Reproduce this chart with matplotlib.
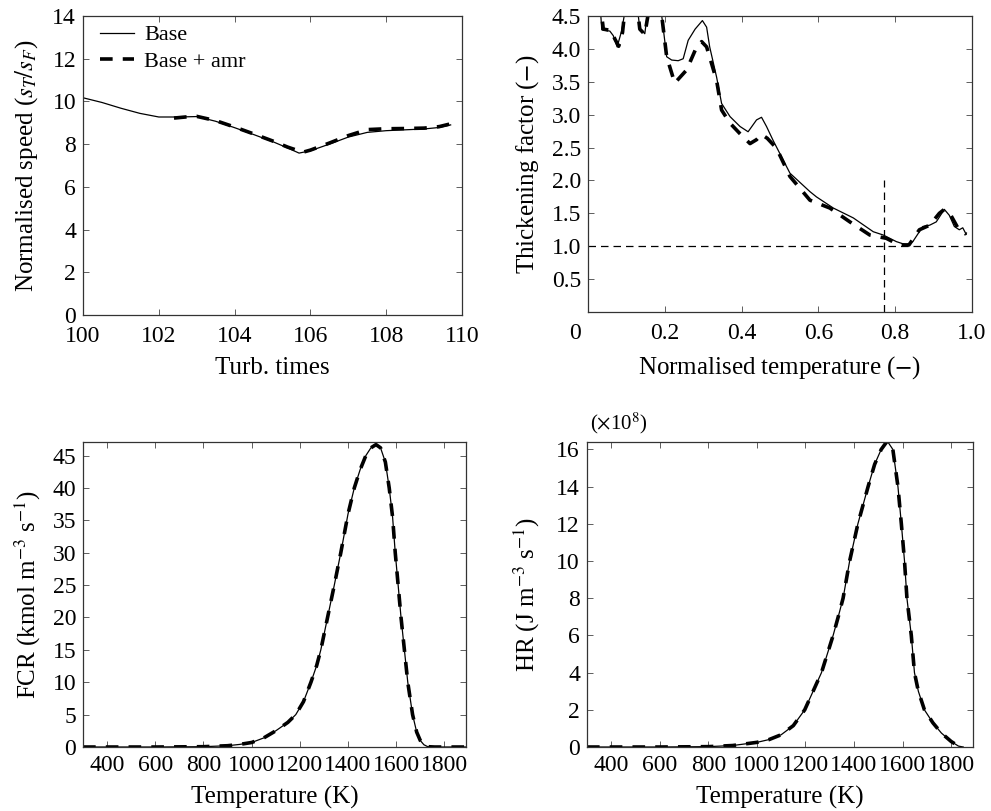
## Flame speed, thickening factor and reaction-rate profiles, base vs base + amr

import numpy as np
import matplotlib.pyplot as plt
from matplotlib.transforms import ScaledTranslation

plt.rcParams['font.family'] = ['Liberation Serif', 'DejaVu Serif']
plt.rcParams['mathtext.fontset'] = 'stix'
plt.rcParams['font.size'] = 17

# Normalised speed vs turbulent times
speed_t_base = [100.0, 100.5, 101.0, 101.5, 102.0, 102.5, 103.0, 103.5, 104.0, 104.5, 105.0,
                105.4, 105.7, 106.0, 106.5, 107.0, 107.5, 108.0, 108.5, 109.0, 109.4, 109.7]
speed_base = [10.17, 9.95, 9.68, 9.44, 9.27, 9.27, 9.29, 9.07, 8.77, 8.45, 8.12,
              7.82, 7.58, 7.69, 8.00, 8.33, 8.55, 8.63, 8.67, 8.71, 8.78, 8.90]
speed_t_amr = [102.4, 102.7, 103.0, 103.5, 104.0, 104.5, 105.0, 105.4, 105.8, 106.0, 106.5,
               107.0, 107.5, 108.0, 108.5, 109.0, 109.4, 109.7]
speed_amr = [9.22, 9.27, 9.30, 9.10, 8.80, 8.48, 8.15, 7.86, 7.62, 7.72, 8.05,
             8.40, 8.68, 8.72, 8.73, 8.75, 8.82, 8.95]

# Thickening factor vs normalised temperature
tf_x_base = [0.030, 0.036, 0.057, 0.066, 0.076, 0.088, 0.094, 0.100, 0.125, 0.135, 0.148,
             0.154, 0.165, 0.188, 0.205, 0.218, 0.235, 0.248, 0.261, 0.279, 0.298, 0.309,
             0.317, 0.335, 0.348, 0.370, 0.396, 0.417, 0.439, 0.452, 0.465, 0.482, 0.526,
             0.578, 0.595, 0.639, 0.691, 0.743, 0.769, 0.803, 0.829, 0.846, 0.872, 0.890,
             0.907, 0.928, 0.941, 0.954, 0.967, 0.976, 0.985]
tf_base = [4.80, 4.29, 4.27, 4.20, 4.03, 4.28, 4.49, 4.80, 4.80, 4.31, 4.23,
           4.50, 4.80, 4.70, 3.88, 3.83, 3.82, 3.85, 4.13, 4.30, 4.43, 4.33,
           4.03, 3.57, 3.17, 2.97, 2.82, 2.74, 2.92, 2.96, 2.82, 2.61, 2.11,
           1.83, 1.75, 1.58, 1.43, 1.22, 1.17, 1.07, 1.02, 1.07, 1.30, 1.32,
           1.37, 1.56, 1.47, 1.30, 1.25, 1.28, 1.18]
tf_x_amr = [0.030, 0.040, 0.060, 0.070, 0.080, 0.090, 0.100, 0.125, 0.135, 0.148, 0.156,
            0.170, 0.188, 0.205, 0.226, 0.257, 0.283, 0.296, 0.309, 0.335, 0.348, 0.370,
            0.396, 0.422, 0.439, 0.452, 0.467, 0.491, 0.526, 0.578, 0.630, 0.682, 0.734,
            0.777, 0.810, 0.836, 0.863, 0.890, 0.915, 0.928, 0.946, 0.963, 0.985]
tf_amr = [4.80, 4.30, 4.28, 4.15, 4.04, 4.25, 4.80, 4.80, 4.30, 4.22, 4.50,
          4.80, 4.70, 3.88, 3.48, 3.68, 4.03, 4.11, 4.03, 3.52, 3.07, 2.87,
          2.71, 2.56, 2.62, 2.70, 2.64, 2.49, 2.06, 1.70, 1.58, 1.37, 1.17,
          1.12, 1.02, 1.02, 1.25, 1.32, 1.50, 1.56, 1.46, 1.28, 1.18]
tf_marker_x = 0.772

# FCR vs temperature
fcr_T = [300, 600, 800, 900, 950, 1000, 1050, 1100, 1150, 1183, 1215, 1246, 1270, 1287,
         1315, 1343, 1370, 1400, 1426, 1450, 1474, 1495, 1516, 1535, 1555, 1571, 1585,
         1596, 1608, 1620, 1634, 1648, 1668, 1685, 1700, 1715, 1731, 1760, 1890]
fcr_base = [0.0, 0.0, 0.05, 0.2, 0.4, 0.7, 1.4, 2.5, 3.8, 5.0, 7.0, 10.0, 12.6, 15.0,
            20.0, 25.0, 30.0, 36.0, 40.0, 42.8, 45.0, 46.2, 46.7, 46.2, 44.0, 40.0, 35.5,
            30.0, 25.0, 20.0, 15.0, 10.0, 5.0, 2.3, 1.0, 0.35, 0.05, 0.0, 0.0]
fcr_amr = fcr_base

# Heat release vs temperature (x 1e8)
hr_T = [300, 600, 800, 900, 1000, 1050, 1100, 1150, 1197, 1235, 1266, 1290, 1314, 1335,
        1355, 1382, 1416, 1458, 1485, 1512, 1537, 1560, 1581, 1595, 1608, 1618, 1636,
        1649, 1665, 1690, 1725, 1760, 1800, 1830, 1850]
hr_base = [0.0, 0.0, 0.02, 0.08, 0.25, 0.4, 0.66, 1.15, 2.0, 3.1, 4.0, 5.0, 6.0, 7.0,
           8.0, 10.0, 12.0, 14.0, 15.2, 16.0, 16.45, 16.0, 14.0, 12.0, 10.0, 8.0, 6.0,
           4.0, 3.0, 2.0, 1.3, 0.75, 0.3, 0.05, 0.0]
hr_amr = hr_base


def style_axes(ax, xpad=6):
    ax.tick_params(direction='in', top=True, right=True, length=4, width=0.6,
                   colors='#444444', labelcolor='black', labelsize=17)
    ax.tick_params(axis='x', pad=xpad)
    ax.tick_params(axis='y', pad=5)
    for s in ax.spines.values():
        s.set_linewidth(0.9)
        s.set_color('#333333')


fig = plt.figure(figsize=(9.91, 8.11), dpi=100)

solid = dict(color='black', lw=0.9)
dashed = dict(color='black', lw=2.6, dashes=(3.5, 2.8))

# Top left
ax1 = fig.add_axes([0.0838, 0.6116, 0.3824, 0.3687])
ax1.plot(speed_t_base, speed_base, label='Base', **solid)
ax1.plot(speed_t_amr, speed_amr, label='Base + amr', **dashed)
ax1.set_xlim(100, 110)
ax1.set_ylim(0, 14)
ax1.set_xticks(np.arange(100, 111, 2))
ax1.set_yticks(np.arange(0, 15, 2))
ax1.set_xlabel('Turb. times', fontsize=18, va='center')
ax1.set_ylabel(r'Normalised speed ($s_T/s_F$)', fontsize=18, va='center')
ax1.xaxis.set_label_coords(0.5, -0.177)
ax1.yaxis.set_label_coords(-0.148, 0.5)
ax1.legend(loc='upper left', bbox_to_anchor=(0.02, 1.0), frameon=False, fontsize=16,
           handlelength=1.55, handletextpad=0.45, borderaxespad=0.0, labelspacing=0.25)
style_axes(ax1, xpad=8)

# Top right
ax2 = fig.add_axes([0.5933, 0.6153, 0.3875, 0.3650])
ax2.plot(tf_x_base, tf_base, **solid)
ax2.plot(tf_x_amr, tf_amr, **dashed)
ax2.axhline(1.0, color='black', lw=0.9, dashes=(6, 4))
ax2.plot([tf_marker_x, tf_marker_x], [0, 2.0], color='black', lw=0.9, dashes=(6, 4))
ax2.set_xlim(0, 1.0)
ax2.set_ylim(0, 4.5)
ax2.set_xticks([0, 0.2, 0.4, 0.6, 0.8, 1.0])
ax2.set_xticklabels(['0', '0.2', '0.4', '0.6', '0.8', '1.0'])
ax2.set_yticks(np.arange(0.5, 4.6, 0.5))
ax2.set_yticklabels(['%.1f' % v for v in np.arange(0.5, 4.6, 0.5)])
ax2.set_xlabel(r'Normalised temperature ($-$)', fontsize=18, va='center')
ax2.set_ylabel(r'Thickening factor ($-$)', fontsize=18, va='center')
ax2.xaxis.set_label_coords(0.5, -0.189)
ax2.yaxis.set_label_coords(-0.156, 0.5)
style_axes(ax2, xpad=8)
lbl0 = ax2.get_xticklabels()[0]
lbl0.set_transform(lbl0.get_transform() + ScaledTranslation(-0.13, 0, fig.dpi_scale_trans))

# Bottom left
ax3 = fig.add_axes([0.0838, 0.0789, 0.3865, 0.3761])
ax3.plot(fcr_T, fcr_base, **solid)
ax3.plot(fcr_T, fcr_amr, **dashed)
ax3.set_xlim(300, 1890)
ax3.set_ylim(0, 47.1)
ax3.set_xticks(np.arange(400, 1801, 200))
ax3.set_yticks(np.arange(0, 46, 5))
ax3.set_xlabel('Temperature (K)', fontsize=18, va='center')
ax3.set_ylabel(r'FCR (kmol m$^{-3}$ s$^{-1}$)', fontsize=18, va='center')
ax3.xaxis.set_label_coords(0.5, -0.164)
ax3.yaxis.set_label_coords(-0.144, 0.5)
style_axes(ax3)

# Bottom right
ax4 = fig.add_axes([0.5923, 0.0789, 0.3895, 0.3761])
ax4.plot(hr_T, hr_base, **solid)
ax4.plot(hr_T, hr_amr, **dashed)
ax4.set_xlim(300, 1890)
ax4.set_ylim(0, 16.4)
ax4.set_xticks(np.arange(400, 1801, 200))
ax4.set_yticks(np.arange(0, 17, 2))
ax4.set_xlabel('Temperature (K)', fontsize=18, va='center')
ax4.set_ylabel(r'HR (J m$^{-3}$ s$^{-1}$)', fontsize=18, va='center')
ax4.xaxis.set_label_coords(0.5, -0.164)
ax4.yaxis.set_label_coords(-0.155, 0.5)
ax4.text(0.008, 1.02, r'($\times$10$^8$)', transform=ax4.transAxes, fontsize=15,
         ha='left', va='bottom')
style_axes(ax4)

fig.savefig('out.png', dpi=100)
